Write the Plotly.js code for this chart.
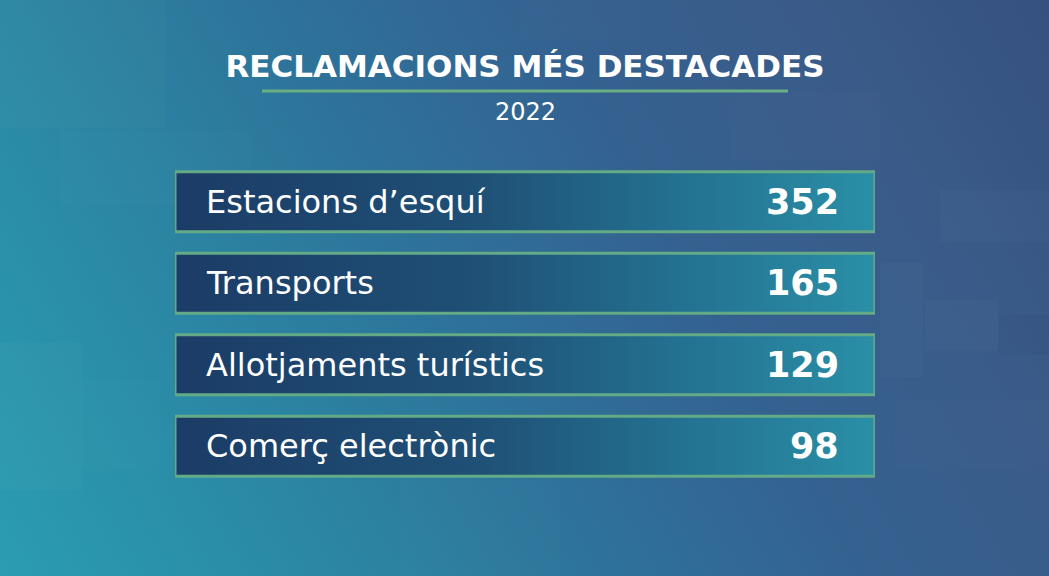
<!DOCTYPE html>
<html>
<head>
<meta charset="utf-8">
<script src="https://cdn.plot.ly/plotly-3.0.1.min.js"></script>
<style>
  html, body { margin:0; padding:0; width:1049px; height:576px; overflow:hidden; }
  #chart {
    width:1049px; height:576px;
    background: linear-gradient(60deg, #2a9db3 0%, #2b86a3 25%, #2e7199 45%, #35608f 65%, #3a5b89 82%, #35517f 100%);
  }
</style>
</head>
<body>
<div id="chart"></div>
<script>
const titleText = 'RECLAMACIONS MÉS DESTACADES';
const subtitleText = '2022';
const categories = ['Estacions d\u2019esquí', 'Transports', 'Allotjaments turístics', 'Comerç electrònic'];
const values = [352, 165, 129, 98];

const maxVal = Math.max(...values);
const half = 0.369;

const W = 1049, H = 576;
const M = { l: 175, r: 174, t: 161, b: 89 };
const plotW = W - M.l - M.r, plotH = H - M.t - M.b;
const px2paperX = p => (p - M.l) / plotW;
const px2paperY = p => (H - M.b - p) / plotH;

const traces = categories.map((c, i) => ({
  type: 'scatter',
  mode: 'lines',
  x: [0, maxVal, maxVal, 0, 0],
  y: [i - half, i - half, i + half, i + half, i - half],
  fill: 'toself',
  fillgradient: {
    type: 'horizontal',
    colorscale: [[0, '#1b3c66'], [0.42, '#1f4f75'], [0.75, '#247493'], [1, '#2a8fa7']]
  },
  line: { color: '#63ab86', width: 3 },
  hoverinfo: 'skip',
  showlegend: false
}));

const annotations = [];
categories.forEach((c, i) => {
  annotations.push({
    x: 0, y: i, xref: 'x', yref: 'y',
    text: c, showarrow: false,
    xanchor: 'left', yanchor: 'middle', xshift: 29,
    font: { family: 'DejaVu Sans', size: 32, color: '#ffffff' }
  });
  annotations.push({
    x: maxVal, y: i, xref: 'x', yref: 'y',
    text: String(values[i]), showarrow: false,
    xanchor: 'right', yanchor: 'middle', xshift: -34,
    font: { family: 'DejaVu Sans', size: 35, color: '#ffffff', weight: 700 }
  });
});
annotations.push({
  x: 0.5, y: px2paperY(112), xref: 'paper', yref: 'paper',
  text: subtitleText, showarrow: false, xanchor: 'center', yanchor: 'middle',
  font: { family: 'DejaVu Sans', size: 24, color: '#ffffff' }
});

// faint decorative background squares (pixel rectangles)
const deco = [
  [0, 0, 166, 128, 0.018], [60, 130, 250, 205, 0.01], [0, 343, 82, 490, 0.018],
  [82, 380, 160, 470, 0.01], [940, 190, 1049, 242, 0.018], [880, 263, 923, 377, 0.02],
  [925, 300, 998, 350, 0.018], [998, 315, 1049, 355, -0.025], [895, 400, 1049, 470, 0.01],
  [520, 0, 640, 40, 0.012], [730, 90, 880, 160, 0.01], [400, 480, 560, 576, 0.01]
];
const shapes = deco.map(([x0, y0, x1, y1, a]) => ({
  type: 'rect', xref: 'paper', yref: 'paper', layer: 'below',
  x0: px2paperX(x0), x1: px2paperX(x1), y0: px2paperY(y1), y1: px2paperY(y0),
  fillcolor: a > 0 ? `rgba(255,255,255,${a})` : `rgba(0,20,60,${-a})`,
  line: { width: 0 }
}));
shapes.push({
  type: 'line', xref: 'paper', yref: 'paper',
  x0: px2paperX(262), x1: px2paperX(788), y0: px2paperY(91), y1: px2paperY(91),
  line: { color: '#6aae84', width: 3 }
});

const layout = {
  width: W, height: H,
  margin: M,
  paper_bgcolor: 'rgba(0,0,0,0)',
  plot_bgcolor: 'rgba(0,0,0,0)',
  title: {
    text: titleText,
    x: 0.5, xref: 'paper',
    y: 1 - 66 / H, yref: 'container', yanchor: 'middle',
    font: { family: 'DejaVu Sans', size: 31, color: '#ffffff', weight: 700 }
  },
  xaxis: { range: [0, maxVal], visible: false, fixedrange: true },
  yaxis: { range: [categories.length - 0.5, -0.5], visible: false, fixedrange: true },
  shapes: shapes,
  annotations: annotations,
  showlegend: false
};

Plotly.newPlot('chart', traces, layout, { displayModeBar: false, staticPlot: true });
</script>
</body>
</html>
